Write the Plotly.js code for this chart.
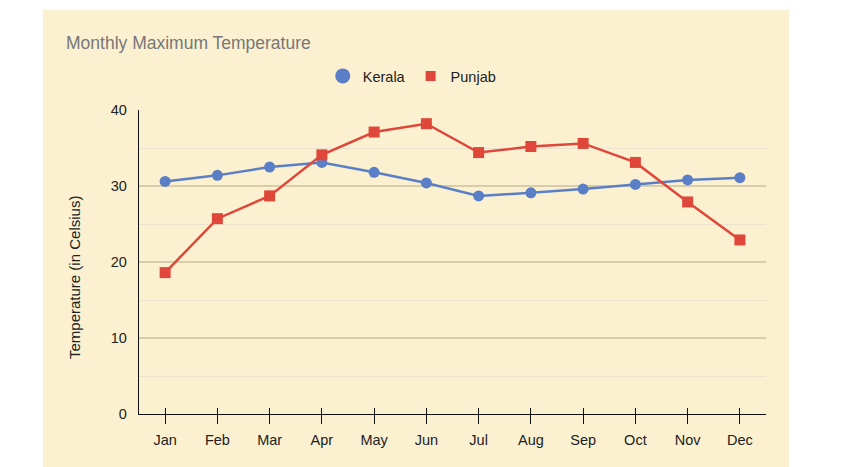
<!DOCTYPE html>
<html>
<head>
<meta charset="utf-8">
<script src="https://cdn.plot.ly/plotly-3.0.1.min.js"></script>
<style>
  html, body { margin: 0; padding: 0; background: #ffffff; width: 854px; height: 467px; overflow: hidden; }
  #chart { position: absolute; left: 43px; top: 10px; width: 746px; height: 457px; }
</style>
</head>
<body>
<div id="chart"></div>
<script>
const months = ["Jan","Feb","Mar","Apr","May","Jun","Jul","Aug","Sep","Oct","Nov","Dec"];
const kerala = [30.6, 31.4, 32.5, 33.1, 31.8, 30.4, 28.7, 29.1, 29.6, 30.2, 30.8, 31.1];
const punjab = [18.6, 25.7, 28.7, 34.1, 37.1, 38.2, 34.4, 35.2, 35.6, 33.1, 27.9, 22.9];
const seriesNames = ["Kerala", "Punjab"];
const yTicks = [0, 10, 20, 30, 40];

const blue = "#5b7fc6";
const red = "#e0473b";
const font = "Liberation Sans, Arial, sans-serif";

const traces = [
  {x: months, y: kerala, type: "scatter", mode: "lines+markers", name: seriesNames[0], showlegend: false,
   line: {color: blue, width: 2.5}, marker: {color: blue, size: 11, symbol: "circle"}, hoverinfo: "x+y"},
  {x: months, y: punjab, type: "scatter", mode: "lines+markers", name: seriesNames[1], showlegend: false,
   line: {color: red, width: 2.5}, marker: {color: red, size: 11, symbol: "square"}, hoverinfo: "x+y"},
  {x: [null], y: [null], type: "scatter", mode: "markers", name: seriesNames[0], showlegend: true,
   marker: {color: blue, size: 15, symbol: "circle"}},
  {x: [null], y: [null], type: "scatter", mode: "markers", name: seriesNames[1], showlegend: true,
   marker: {color: red, size: 10, symbol: "square"}},
  {x: months, y: kerala, xaxis: "x2", type: "scatter", mode: "markers", showlegend: false,
   marker: {opacity: 0}, hoverinfo: "skip"}
];

const layout = {
  width: 746, height: 457,
  paper_bgcolor: "#fbf1d1",
  plot_bgcolor: "rgba(0,0,0,0)",
  margin: {l: 96, r: 23, t: 100, b: 53},
  font: {family: font, size: 14, color: "#222222"},
  title: {text: "Monthly Maximum Temperature", xref: "container", x: 23/746, xanchor: "left",
          yref: "container", y: 1 - 33/457, yanchor: "middle",
          font: {family: font, size: 17.5, color: "#777777"}},
  showlegend: true,
  legend: {orientation: "h", xref: "container", x: 0.495, xanchor: "center",
           yref: "container", y: 1 - 66/457, yanchor: "middle",
           font: {family: font, size: 14.5, color: "#222222"}, bgcolor: "rgba(0,0,0,0)",
           itemclick: false, traceorder: "normal"},
  xaxis: {type: "category", range: [-0.5, 11.5], showgrid: false, zeroline: false,
          showline: true, linecolor: "#111111", linewidth: 1.2,
          ticks: "outside", ticklen: 9, tickwidth: 1.2, tickcolor: "#111111",
          tickfont: {family: font, size: 14.5, color: "#222222"}, ticklabelstandoff: 3},
  xaxis2: {type: "category", overlaying: "x", matches: "x", anchor: "y", showgrid: false, zeroline: false,
           showline: false, ticks: "inside", ticklen: 6, tickwidth: 1.2, tickcolor: "#111111",
           showticklabels: false},
  yaxis: {range: [0, 40], tickvals: yTicks, ticktext: yTicks.map(String), showgrid: true,
          gridcolor: "#d8cdab", gridwidth: 1.3, zeroline: false,
          showline: true, linecolor: "#111111", linewidth: 1.2, ticks: "",
          ticklabelstandoff: 8,
          minor: {dtick: 5, tick0: 0, showgrid: true, gridcolor: "#ebe2cf", gridwidth: 1, ticks: ""},
          tickfont: {family: font, size: 14.5, color: "#222222"}},
  annotations: [{text: "Temperature (in Celsius)", xref: "paper", yref: "paper",
                 x: (31 - 96) / 627, y: (414 - 278) / 304, xanchor: "center", yanchor: "middle",
                 textangle: -90, showarrow: false, font: {family: font, size: 15, color: "#222222"}}]
};

Plotly.newPlot("chart", traces, layout, {displayModeBar: false, staticPlot: true});
</script>
</body>
</html>
